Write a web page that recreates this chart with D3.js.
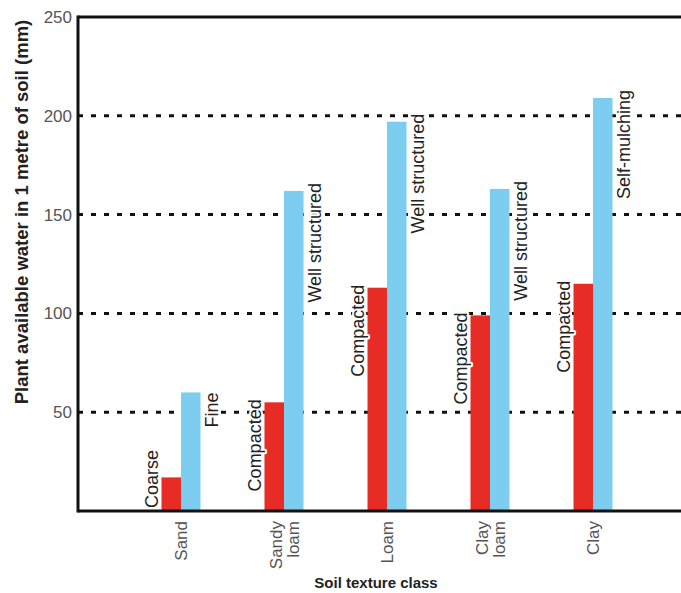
<!DOCTYPE html>
<html>
    <head>
        <title>Plant available water</title>
        <script src="https://d3js.org/d3.v7.min.js"></script>
        <style>
            body { margin: 0; background: #fff; }
            text { font-family: "Liberation Sans", Arial, sans-serif; }
            .halo { stroke: #fff; stroke-width: 4px; paint-order: stroke; stroke-linejoin: round; }
        </style>
    </head>
    <body>
        <svg id="chart" width="681" height="593"></svg>

        <script>
            // Chart data
            var categories = ["Sand", "Sandy loam", "Loam", "Clay loam", "Clay"];
            var redValues = [17, 55, 113, 99, 115];
            var blueValues = [60, 162, 197, 163, 209];
            var redLabels = ["Coarse", "Compacted", "Compacted", "Compacted", "Compacted"];
            var blueLabels = ["Fine", "Well structured", "Well structured", "Well structured", "Self-mulching"];
            var yTicks = [50, 100, 150, 200, 250];
            var gridValues = [50, 100, 150, 200];

            var red = "rgb(231, 44, 38)";
            var blue = "rgb(125, 205, 240)";

            var plotLeft = 78, plotTop = 17, plotBottom = 511, plotRight = 696;
            var svg = d3.select("#chart");

            //Scales
            var x = d3.scalePoint()
                .domain(categories)
                .range([plotLeft, plotRight])
                .padding(1);
            var y = d3.scaleLinear()
                .domain([0, 250])
                .range([plotBottom, plotTop]);
            var barW = 19.5;

            //Dotted gridlines
            svg.append("g").selectAll("line")
                .data(gridValues)
                .enter().append("line")
                .attr("x1", plotLeft)
                .attr("x2", 681)
                .attr("y1", function(d) { return y(d); })
                .attr("y2", function(d) { return y(d); })
                .attr("stroke", "#111")
                .attr("stroke-width", 3)
                .attr("stroke-dasharray", "5,8");

            //Red bars
            svg.append("g").selectAll("rect")
                .data(redValues)
                .enter().append("rect")
                .attr("x", function(d, i) { return x(categories[i]) - barW; })
                .attr("y", function(d) { return y(d); })
                .attr("width", barW)
                .attr("height", function(d) { return plotBottom - y(d); })
                .attr("fill", red);

            //Blue bars
            svg.append("g").selectAll("rect")
                .data(blueValues)
                .enter().append("rect")
                .attr("x", function(d, i) { return x(categories[i]); })
                .attr("y", function(d) { return y(d); })
                .attr("width", barW)
                .attr("height", function(d) { return plotBottom - y(d); })
                .attr("fill", blue);

            //Labels on the left of red bars
            svg.append("g").selectAll("text")
                .data(redValues)
                .enter().append("text")
                .attr("class", "halo")
                .attr("font-size", "18px")
                .attr("fill", "#222")
                .attr("text-anchor", "end")
                .text(function(d, i) { return redLabels[i]; })
                .each(function(d, i) {
                    var len = this.getComputedTextLength();
                    var yEnd = y(d) - 3;
                    if (yEnd + len > plotBottom - 3) yEnd = plotBottom - 3 - len;
                    var xb = x(categories[i]) - barW - 4;
                    d3.select(this).attr("transform", "translate(" + xb + "," + yEnd + ") rotate(-90)");
                });

            //Labels on the right of blue bars
            svg.append("g").selectAll("text")
                .data(blueValues)
                .enter().append("text")
                .attr("class", "halo")
                .attr("font-size", "18px")
                .attr("fill", "#222")
                .attr("text-anchor", "end")
                .attr("transform", function(d, i) {
                    var off = blueLabels[i].length < 6 ? 0 : -8;
                    return "translate(" + (x(categories[i]) + barW + 17) + "," + (y(d) + off) + ") rotate(-90)";
                })
                .text(function(d, i) { return blueLabels[i]; });

            //Frame
            svg.append("line").attr("x1", plotLeft).attr("x2", 681).attr("y1", plotTop).attr("y2", plotTop)
                .attr("stroke", "#111").attr("stroke-width", 3);
            svg.append("line").attr("x1", plotLeft).attr("x2", 681).attr("y1", plotBottom).attr("y2", plotBottom)
                .attr("stroke", "#111").attr("stroke-width", 3);

            //Y axis
            var yAxis = svg.append("g")
                .attr("transform", "translate(" + plotLeft + ",0)")
                .call(d3.axisLeft(y).tickValues(yTicks).tickSize(0).tickPadding(6));
            yAxis.select(".domain").attr("stroke", "#111").attr("stroke-width", 3)
                .attr("d", "M0," + (plotTop - 1.5) + "V" + (plotBottom + 1.5));
            yAxis.selectAll("text")
                .attr("font-family", "Liberation Sans, Arial, sans-serif")
                .attr("font-size", "17px")
                .attr("fill", "#555");

            //X tick labels (rotated)
            svg.append("g").selectAll("text")
                .data(categories)
                .enter().append("text")
                .attr("font-size", "17px")
                .attr("fill", "#555")
                .attr("text-anchor", "end")
                .attr("transform", function(d) {
                    return "translate(" + x(d) + "," + (plotBottom + 10) + ") rotate(-90)";
                })
                .each(function(d) {
                    var lines = d.split(" ");
                    var t = d3.select(this);
                    var start = lines.length == 1 ? 6 : -2.5;
                    lines.forEach(function(w, k) {
                        t.append("tspan")
                            .attr("x", 0)
                            .attr("y", start + k * 17)
                            .text(w);
                    });
                });

            //Axis titles
            svg.append("text")
                .attr("transform", "translate(28,212) rotate(-90)")
                .attr("text-anchor", "middle")
                .attr("font-size", "18.5px")
                .attr("font-weight", "bold")
                .attr("fill", "#222")
                .text("Plant available water in 1 metre of soil (mm)");

            svg.append("text")
                .attr("x", 376)
                .attr("y", 588)
                .attr("text-anchor", "middle")
                .attr("font-size", "15px")
                .attr("font-weight", "bold")
                .attr("fill", "#222")
                .text("Soil texture class");
        </script>
    </body>
</html>
